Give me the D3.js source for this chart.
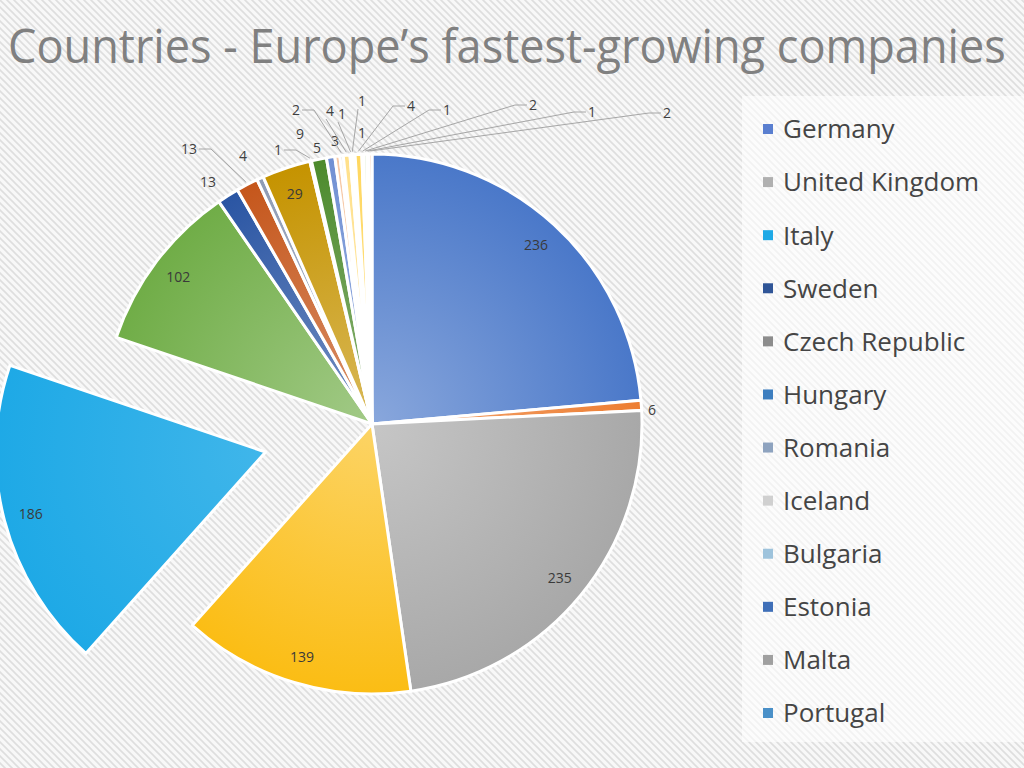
<!DOCTYPE html>
<html>
<head>
<meta charset="utf-8">
<script src="https://cdn.jsdelivr.net/npm/d3@7"></script>
<style>
  body { margin: 0; background: #f6f6f6; }
  svg { display: block; }
</style>
</head>
<body>
<script>
// slices, clockwise from 12 o'clock (FT 1000 — sums to 1000)
const values = [236, 6, 235, 139, 186, 102, 13, 13, 4, 29, 1, 9, 5, 3, 2, 4, 1, 1, 1, 4, 1, 2, 1, 2];
const sliceColors = ['#4a78c9', '#ed7d31', '#a8a8a8', '#fbbd14', '#1ea9e6', '#70ad47',
  '#2a55a3', '#c5561b', '#8e9bb5', '#c59300', '#e6e6e6', '#4c8a2c',
  '#6f8fd3', '#f6c7a4', '#dcdcdc', '#ffe08a', '#c9dcef', '#cfe5bf',
  '#f2b080', '#ffd75e', '#a3c6e8', '#b4d49a', '#dedede', '#f5c2a0'];
const explodedIndex = 4; // Italy

const legendNames = ['Germany', 'United Kingdom', 'Italy', 'Sweden', 'Czech Republic', 'Hungary',
  'Romania', 'Iceland', 'Bulgaria', 'Estonia', 'Malta', 'Portugal'];
const legendColors = ['#5a7fd0', '#b0b0b0', '#1ea9e6', '#2f5597', '#8c8c8c', '#3d7ebf',
  '#8ea3bf', '#d0d0d0', '#9ec3dc', '#3f6fb8', '#a0a0a0', '#4a90c8'];

const title = 'Countries - Europe\u2019s fastest-growing companies';

// label placement for small slices: [dx, dy] from pie centre, leader type (0 none, 1 elbow, 2 straight)
const outsideLabels = {
  1: [280, -14, 0], 6: [-164, -242, 0], 7: [-183, -275, 1], 8: [-129, -268, 0],
  10: [-94, -274, 1], 11: [-72, -290, 0], 12: [-55, -276, 0], 13: [-37, -283, 0],
  14: [-76, -314, 1], 15: [-42, -313, 2], 16: [-30, -310, 2], 17: [-10, -323, 2],
  18: [-10, -291, 0], 19: [39, -318, 1], 20: [75, -314, 1], 21: [161, -319, 1],
  22: [220, -312, 1], 23: [295, -311, 1]
};

const width = 1024, height = 768;
const cx = 372, cy = 424, radius = 270, explode = 110;

const svg = d3.select('body').append('svg')
  .attr('width', width)
  .attr('height', height);

const defs = svg.append('defs');

// hatched backdrop
const pat = defs.append('pattern')
  .attr('id', 'hatch')
  .attr('width', 7).attr('height', 7)
  .attr('patternUnits', 'userSpaceOnUse');
pat.append('rect').attr('width', 7).attr('height', 7).attr('fill', '#f8f8f8');
pat.append('path')
  .attr('d', 'M0,0L7,7M-1,6L1,8M6,-1L8,1')
  .attr('stroke', '#dedede')
  .attr('stroke-width', 1.6);

svg.append('rect').attr('width', width).attr('height', height).attr('fill', 'url(#hatch)');

// title: fit the width, then stretch vertically to the reference height
const titleText = svg.append('text')
  .style('font-family', '"Open Sans", sans-serif')
  .style('font-size', '47px')
  .attr('fill', '#808080')
  .text(title);
const natural = titleText.node().getComputedTextLength();
const fs = 47 * 998 / natural;
titleText.style('font-size', fs + 'px')
  .attr('transform', `translate(8,63) scale(1,${47 / fs})`);

// pie
const pie = d3.pie().sort(null).value(d => d);
const arcs = pie(values);
const arc = d3.arc().innerRadius(0).outerRadius(radius);
const labelArc = d3.arc().innerRadius(radius * 0.9).outerRadius(radius * 0.9);
const edgeArc = d3.arc().innerRadius(radius + 3).outerRadius(radius + 3);

arcs.forEach((d, i) => {
  const g = defs.append('radialGradient')
    .attr('id', 'grad' + i)
    .attr('gradientUnits', 'userSpaceOnUse')
    .attr('cx', 0).attr('cy', 0).attr('r', radius);
  g.append('stop').attr('offset', '0%').attr('stop-color', d3.interpolateRgb(sliceColors[i], '#fff')(i === explodedIndex ? 0.15 : 0.35));
  g.append('stop').attr('offset', '100%').attr('stop-color', sliceColors[i]);
});

function offsetOf(d, i) {
  if (i !== explodedIndex) return [0, 0];
  const a = (d.startAngle + d.endAngle) / 2;
  return [explode * Math.sin(a), -explode * Math.cos(a)];
}

const chart = svg.append('g').attr('transform', `translate(${cx},${cy})`);

chart.selectAll('path.slice')
  .data(arcs)
  .join('path')
  .attr('class', 'slice')
  .attr('transform', (d, i) => `translate(${offsetOf(d, i)})`)
  .attr('d', arc)
  .attr('fill', (d, i) => `url(#grad${i})`)
  .attr('stroke', '#fff')
  .attr('stroke-width', 3)
  .attr('stroke-linejoin', 'round');

// inside labels
const labelFont = '"Open Sans", sans-serif';
chart.selectAll('text.inlabel')
  .data(arcs.filter((d, i) => !outsideLabels[i]))
  .join('text')
  .attr('class', 'inlabel')
  .attr('transform', d => {
    const c = labelArc.centroid(d);
    const o = offsetOf(d, d.index);
    return `translate(${c[0] + o[0]},${c[1] + o[1]})`;
  })
  .attr('text-anchor', 'middle')
  .attr('dy', '0.35em')
  .style('font-family', labelFont)
  .style('font-size', '14px')
  .attr('fill', '#3a3a3a')
  .text(d => d.value);

// outside labels with leaders
arcs.forEach((d, i) => {
  const spot = outsideLabels[i];
  if (!spot) return;
  const [lx, ly, leader] = spot;
  const t = chart.append('text')
    .attr('x', lx).attr('y', ly)
    .attr('text-anchor', 'middle')
    .attr('dy', '0.35em')
    .style('font-family', labelFont)
    .style('font-size', '14px')
    .attr('fill', '#404040')
    .text(d.value);
  if (!leader) return;
  const w = t.node().getComputedTextLength();
  const p = edgeArc.centroid(d);
  let pts;
  if (leader === 1) {
    const side = p[0] > lx ? 1 : -1;
    const x0 = lx + side * (w / 2 + 2);
    const x1 = x0 + side * 12;
    pts = [[x0, ly], [x1, ly], p];
  } else {
    pts = [[lx - 4, ly + 8], p];
  }
  chart.append('path')
    .attr('d', d3.line()(pts))
    .attr('fill', 'none')
    .attr('stroke', '#a6a6a6')
    .attr('stroke-width', 1);
});

// legend
const legend = svg.append('g');
legend.append('rect')
  .attr('x', 742).attr('y', 96)
  .attr('width', 282).attr('height', 646)
  .attr('fill', '#fff')
  .attr('opacity', 0.6);

const rowY = d3.scalePoint().domain(legendNames).range([129, 713]);

const item = legend.selectAll('g.item')
  .data(legendNames)
  .join('g')
  .attr('class', 'item')
  .attr('transform', d => `translate(763,${rowY(d)})`);

item.append('rect')
  .attr('x', 0).attr('y', -5)
  .attr('width', 10).attr('height', 10)
  .attr('fill', (d, i) => legendColors[i]);

item.append('text')
  .attr('x', 20)
  .attr('dy', '0.36em')
  .style('font-family', '"Open Sans", sans-serif')
  .style('font-size', '26px')
  .attr('fill', '#454545')
  .text(d => d);
</script>
</body>
</html>
